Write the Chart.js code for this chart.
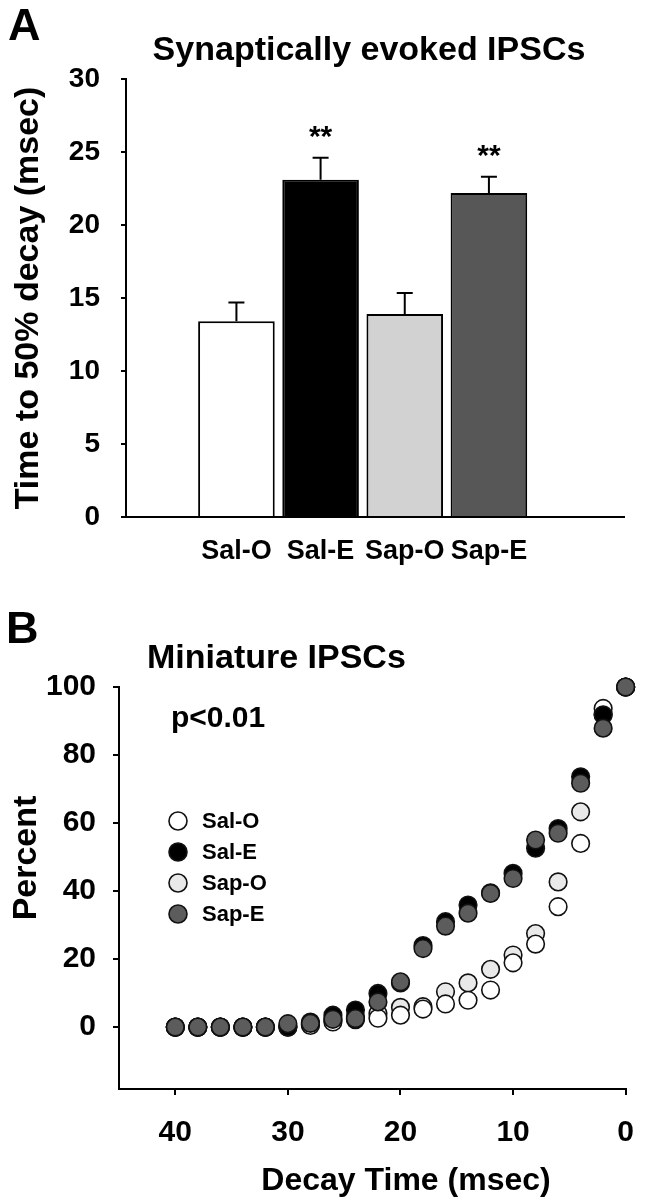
<!DOCTYPE html>
<html lang="en">
<head>
  <meta charset="UTF-8">
  <title>IPSC decay</title>
  <style>
    *{margin:0;padding:0;box-sizing:border-box;}
    body{background:#fff;width:654px;height:1199px;overflow:hidden;}
    #wrap{position:relative;width:654px;height:1199px;}
    #wrap canvas{position:absolute;left:0;}
    #chartA{top:0;}
    #chartB{top:600px;}
  </style>
  <script src="https://cdn.jsdelivr.net/npm/chart.js@4.4.0/dist/chart.umd.min.js"></script>
</head>
<body>
  <div id="wrap">
    <canvas id="chartA" width="654" height="600"></canvas>
    <canvas id="chartB" width="654" height="599"></canvas>
  </div>

  <script>
    // ---- panel A : synaptically evoked IPSCs ----
    const groups       = ['Sal-O', 'Sal-E', 'Sap-O', 'Sap-E'];
    const decayMeans   = [13.4, 23.1, 13.9, 22.2];
    const decayErrors  = [1.3, 1.5, 1.45, 1.1];
    const significance = ['', '**', '', '**'];
    const barColors    = ['#ffffff', '#000000', '#d2d2d2', '#575757'];

    // ---- panel B : miniature IPSCs, cumulative percent ----
    const decayTimes = [40, 38, 36, 34, 32, 30, 28, 26, 24, 22, 20, 18, 16, 14, 12, 10, 8, 6, 4, 2, 0];
    const salO = [0, 0, 0, 0, 0, 0, 0.5, 1.5, 2.2, 2.6, 3.5, 5.3, 6.8, 7.9, 10.9, 18.9, 24.4, 35.4, 54.0, 93.7, 100];
    const salE = [0, 0, 0, 0, 0, 0, 1.5, 3.5, 5.0, 9.9, 13.0, 24.0, 31.0, 35.9, 39.5, 45.2, 52.6, 58.4, 73.6, 91.8, 100];
    const sapO = [0, 0, 0, 0, 0, 0.3, 0.8, 2.0, 3.0, 4.0, 5.8, 6.0, 10.4, 13.0, 17.0, 21.2, 27.5, 42.7, 63.3, 92.0, 100];
    const sapE = [0, 0, 0, 0, 0, 1.0, 1.1, 2.3, 2.5, 7.4, 13.3, 23.1, 29.7, 33.5, 39.3, 43.7, 55.0, 57.0, 71.7, 87.9, 100];
    const pointColors = ['#ffffff', '#000000', '#e9e9e9', '#5c5c5c'];

    const FONT = "'Liberation Sans', Arial, sans-serif";
    const bold = size => ({ family: FONT, size, weight: 'bold' });
    Chart.defaults.color = '#000';

    const axisLine = { color: '#000', width: 2 };

    // error bars + significance stars on top of the bars
    const errorBars = {
      id: 'errorBars',
      afterDatasetsDraw(chart) {
        const { ctx, scales: { x, y } } = chart;
        ctx.save();
        ctx.strokeStyle = '#000';
        ctx.lineWidth = 2;
        ctx.fillStyle = '#000';
        ctx.font = `bold 30px ${FONT}`;
        ctx.textAlign = 'center';
        decayMeans.forEach((m, i) => {
          const px = x.getPixelForValue(i);
          const base = y.getPixelForValue(m);
          const top = y.getPixelForValue(m + decayErrors[i]);
          ctx.beginPath();
          ctx.moveTo(px, base); ctx.lineTo(px, top);
          ctx.moveTo(px - 8, top); ctx.lineTo(px + 8, top);
          ctx.stroke();
          if (significance[i]) ctx.fillText(significance[i], px, top - 12);
        });
        ctx.restore();
      }
    };

    const panelA = {
      id: 'panelA',
      afterDraw(chart) {
        const ctx = chart.ctx;
        ctx.save();
        ctx.fillStyle = '#000';
        ctx.textBaseline = 'alphabetic';
        ctx.font = `bold 45px ${FONT}`;
        ctx.fillText('A', 8, 40);
        ctx.font = `bold 34px ${FONT}`;
        ctx.textAlign = 'center';
        ctx.fillText('Synaptically evoked IPSCs', 369, 60);
        ctx.restore();
      }
    };

    new Chart(document.getElementById('chartA'), {
      type: 'bar',
      data: {
        datasets: [{
          data: groups.map((g, i) => ({ x: i, y: decayMeans[i] })),
          backgroundColor: barColors,
          borderColor: '#000',
          borderWidth: 2,
          barPercentage: 0.91,
          categoryPercentage: 1
        }]
      },
      options: {
        responsive: false,
        animation: false,
        layout: { padding: { top: 79, right: 30, left: 0, bottom: 0 } },
        plugins: { legend: { display: false }, tooltip: { enabled: false } },
        scales: {
          x: {
            type: 'linear',
            offset: false,
            min: -1.312, max: 4.605,
            grid: { offset: false, drawOnChartArea: false, drawTicks: false },
            border: axisLine,
            ticks: {
              stepSize: 1, includeBounds: false, autoSkip: false, maxRotation: 0,
              font: bold(27), padding: 18,
              callback: v => groups[v] || ''
            },
            afterFit: s => { s.height = 83; }
          },
          y: {
            min: 0, max: 30,
            grid: { drawOnChartArea: false, tickLength: 5, color: '#000', lineWidth: 2 },
            border: axisLine,
            ticks: { stepSize: 5, font: bold(28), padding: 21 },
            title: { display: true, text: 'Time to 50% decay (msec)', font: bold(34), padding: { top: 8 } },
            afterFit: s => { s.width = 126; }
          }
        }
      },
      plugins: [errorBars, panelA]
    });

    // ---- panel B ----
    const series = [
      { label: 'Sal-O', values: salO, order: 2 },
      { label: 'Sal-E', values: salE, order: 1 },
      { label: 'Sap-O', values: sapO, order: 3 },
      { label: 'Sap-E', values: sapE, order: 0 }
    ];

    const panelB = {
      id: 'panelB',
      afterDraw(chart) {
        const ctx = chart.ctx;
        ctx.save();
        ctx.fillStyle = '#000';
        ctx.textBaseline = 'alphabetic';
        ctx.font = `bold 45px ${FONT}`;
        ctx.fillText('B', 6, 43);
        ctx.font = `bold 34px ${FONT}`;
        ctx.fillText('Miniature IPSCs', 147, 68);
        ctx.font = `bold 30px ${FONT}`;
        ctx.fillText('p<0.01', 171, 127);
        ctx.font = `bold 32px ${FONT}`;
        ctx.textAlign = 'center';
        ctx.fillText('Decay Time (msec)', 406, 590);
        // y title
        ctx.save();
        ctx.translate(36, 258);
        ctx.rotate(-Math.PI / 2);
        ctx.font = `bold 34px ${FONT}`;
        ctx.fillText('Percent', 0, 0);
        ctx.restore();
        // legend
        ctx.textAlign = 'left';
        ctx.textBaseline = 'middle';
        ctx.font = `bold 22px ${FONT}`;
        chart.data.datasets.forEach((ds, i) => {
          const cy = 221 + i * 31;
          ctx.beginPath();
          ctx.arc(178, cy, 9, 0, Math.PI * 2);
          ctx.fillStyle = ds.backgroundColor;
          ctx.fill();
          ctx.lineWidth = 1.6;
          ctx.strokeStyle = ds.borderColor;
          ctx.stroke();
          ctx.fillStyle = '#000';
          ctx.fillText(ds.label, 202, cy + 1);
        });
        ctx.restore();
      }
    };

    new Chart(document.getElementById('chartB'), {
      type: 'scatter',
      data: {
        datasets: series.map((s, k) => ({
          label: s.label,
          data: decayTimes.map((t, i) => ({ x: t, y: s.values[i] })),
          backgroundColor: pointColors[k],
          borderColor: '#111',
          borderWidth: 1.6,
          pointRadius: 8.8,
          order: s.order,
          clip: false
        }))
      },
      options: {
        responsive: false,
        animation: false,
        layout: { padding: { top: 87, right: 16, left: 0, bottom: 0 } },
        plugins: { legend: { display: false }, tooltip: { enabled: false } },
        scales: {
          x: {
            type: 'linear',
            reverse: true,
            min: 0, max: 45,
            grid: { drawOnChartArea: false, tickLength: 6, color: '#000', lineWidth: 2 },
            border: axisLine,
            ticks: { stepSize: 10, includeBounds: false, font: bold(30), padding: 20, maxRotation: 0 },
            afterFit: s => { s.height = 110; }
          },
          y: {
            min: -18.2, max: 100,
            grid: { drawOnChartArea: false, tickLength: 6, color: '#000', lineWidth: 2 },
            border: axisLine,
            ticks: { stepSize: 20, includeBounds: false, font: bold(30), padding: 17 },
            afterFit: s => { s.width = 119; }
          }
        }
      },
      plugins: [panelB]
    });
  </script>
</body>
</html>
